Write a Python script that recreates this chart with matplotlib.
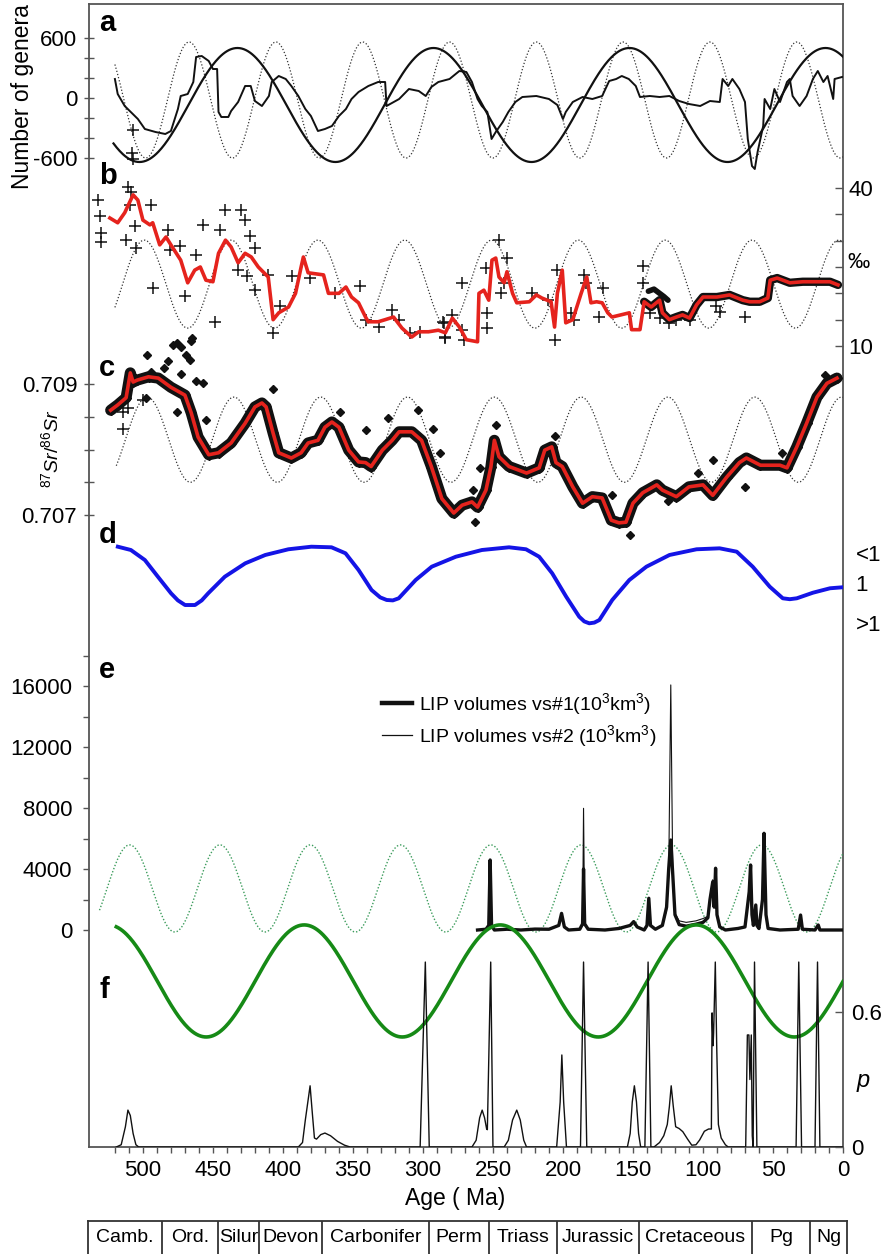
import numpy as np
import matplotlib
matplotlib.use("Agg")
import matplotlib.pyplot as plt
from matplotlib.lines import Line2D

plt.rcParams['font.family'] = ['Liberation Sans', 'DejaVu Sans']
plt.rcParams['mathtext.fontset'] = 'custom'
plt.rcParams['mathtext.rm'] = 'Liberation Sans'
plt.rcParams['mathtext.it'] = 'Liberation Sans:italic'
plt.rcParams['axes.unicode_minus'] = False

# ---------------- data (ages in Ma) ----------------
# model cycles: period, age of a peak, mean, amplitude, oldest age drawn
CYC_A_62 = (62.0, 33.0, -20.0, 580.0, 520.0)
CYC_A_140 = (140.0, 12.5, -70.0, 570.0, 521.0)
CYC_B_62 = (62.0, 3.0, 21.75, 8.35, 520.0)
CYC_C_62 = (62.0, 1.0, 0.70815, 0.00065, 519.0)
CYC_E_64 = (64.5, 58.0, 2725.0, 2855.0, 531.0)
CYC_F_140 = (140.0, 104.8, 0.738, 0.249, 519.0)

# a: number of genera (detrended)
gen_age = [520, 518, 513, 503.6, 498.6, 491, 484, 480, 475, 473, 468, 464, 462, 458, 453, 450,
           447, 446, 444, 439, 437, 432, 427, 423, 420, 415, 410, 408, 403, 398, 394, 389, 384,
           380, 375, 370, 365, 360, 355, 351, 346, 339, 332, 327, 326, 317, 310, 303, 298, 294,
           289, 281, 274, 269, 265, 261, 258, 254, 251, 248, 243, 239, 234, 229, 219, 210, 204,
           200, 198, 193, 186, 179, 172, 167, 162, 158, 153, 148, 145, 138, 131, 124, 117, 110,
           102, 95, 88, 86, 82, 79, 74, 70, 68, 65, 63, 61, 57, 56, 52, 49, 45, 40, 38, 36, 31,
           26, 21.5, 18, 14, 11, 7, 6, 0.7]
gen_val = [190, 40, -80, -210, -310, -340, -360, -330, -110, 20, 40, 160, 410, 420, 370, 290,
           290, -140, -190, -190, -130, -40, 120, 120, -30, -80, 20, 160, 220, 190, 120, 20, -110,
           -180, -330, -310, -280, -180, -110, -10, 60, 120, 160, 160, -80, -10, 90, 70, 20, 110,
           160, 190, 270, 260, 160, -10, -80, -140, -410, -340, -240, -140, -40, 10, 20, -10, -70,
           -210, -140, -40, 10, -10, 20, 170, 190, 220, 190, 120, 10, 20, 10, 20, -30, -60,
           -80, -30, -40, 190, 120, 190, 90, -40, -410, -680, -710, -540, -280, -10, -110, 90, -40, 160, 190, 20, -80,
           20, 190, 270, 160, 220, -10, 190, 210]

# b: d34S (permil), smoothed curve
s_age = [523.6, 518, 513, 507, 503.6, 500, 495, 493, 488, 483.5, 480, 473, 468, 463, 459, 455,
         450, 446, 441, 437, 432, 427, 422.6, 417.6, 410.5, 407, 403, 396, 391, 387, 385.4, 382,
         371, 367.5, 360, 355, 351, 346, 341, 339, 332, 327, 321, 315, 308, 303, 296, 289, 284,
         279, 274, 269, 261, 260, 256.5, 253, 250.7, 248, 245.7, 242, 240, 236, 233, 224, 219,
         215, 208.5, 206, 204, 200.5, 198, 193, 187, 183, 180, 176, 172, 168, 165, 152.6, 151,
         145, 142, 137, 131, 129, 124, 119, 114.6, 109.6, 104.6, 100, 90, 81, 71.6, 66.6, 59.5,
         53.7, 52, 47, 38, 28.7, 18.6, 9.3, 3.6]
s_val = [34.3, 33.4, 35.3, 38.7, 37.7, 33.9, 33, 33.4, 29.2, 30.7, 29.2, 26.3, 22, 24.4, 25, 22.5,
         22.2, 27.6, 30.1, 28.8, 25.8, 27.6, 26.9, 25, 23.1, 15, 16.3, 17.4, 20, 25, 26.9, 23.9,
         23.5, 20, 20, 21.2, 19.3, 18.2, 15.5, 14.6, 14.6, 15, 15.5, 13.4, 11.7, 12.7, 12.7, 13, 12.5,
         15.3, 13.6, 11.2, 10.8, 20, 20.6, 18.7, 26.3, 26.7, 23.1, 22, 24.1, 20, 18.2, 18.4, 19.7,
         19.1, 18.4, 13.6, 20, 24.4, 14.4, 15, 20, 23.1, 18.2, 18.4, 18.2, 16.3, 15.5, 16.3, 13.1,
         13.1, 18.4, 17.4, 18.7, 16.3, 15, 15.5, 15.9, 15.3, 17.8, 19.3, 19.3, 19.7, 18.7, 18.4, 18.4,
         19.1, 22.5, 22.9, 22, 22.2, 22.2, 22.2, 21.6]
# b: individual measurements
sx_age = [532, 531, 530, 530, 510.7, 508.6, 509.5, 512, 506, 494, 505, 493, 482, 481, 473.7, 470,
          462, 448.6, 441.5, 429.6, 427, 457, 445, 423.6, 420, 432, 426, 420, 410.5, 407, 402,
          393.7, 380.6, 362.7, 344.8, 341, 331.7, 322, 317, 309, 302, 285, 284, 286, 284, 279,
          272, 271, 272, 255, 254, 254, 245.7, 239.7, 244.5, 242, 222, 211, 204, 206, 194, 192,
          185, 183.6, 171.7, 174, 143, 143, 138, 131, 124, 119, 109.6, 90.5, 70, 88, 507, 508, 507]
sx_val = [37.7, 34.6, 31.4, 29.8, 40.2, 39.3, 36.8, 30.1, 32.7, 36.8, 28.6, 21, 32, 28.2, 28.9, 19.4,
          27.3, 14.6, 35.8, 35.8, 33.9, 33, 32, 30.8, 28.6, 24.4, 23.2, 20.6, 23.5, 12.5, 17.5,
          23.2, 22.9, 20, 21.3, 14.9, 13.7, 16.8, 14.9, 12.4, 12.7, 14.3, 11.8, 14.6, 11.5, 15.9,
          13, 11.2, 21.9, 24.8, 16.2, 13.4, 30.1, 26.7, 20, 22, 20, 18.7, 24.4, 11.2, 16.2, 15,
          23.5, 21.9, 21, 15.6, 25.1, 21.9, 16.2, 15.3, 14.3, 14.9, 14.9, 17.5, 15.6, 16.5, 51, 46.6, 45.6]
sarc_age = [139, 135, 131, 128, 125]
sarc_val = [20.4, 20.8, 20.0, 19.4, 18.7]

# c: 87Sr/86Sr smoothed curve
sr_age = [523, 518, 512, 509, 507, 504, 496, 489, 480, 470, 465.5, 460.6, 453, 446, 437, 427, 420,
          415, 412, 407, 403, 394, 387, 382, 375, 370, 365, 360, 353, 346, 341, 337, 329, 322,
          317, 308, 301, 294, 286.5, 278, 272, 265, 261, 255, 251.5, 249, 245.7, 238.5, 226, 217,
          213, 208, 205, 200.5, 193, 186, 179, 172, 165.5, 160, 155, 150, 143, 133, 129, 119, 110,
          100, 93, 83, 74, 69, 59, 45, 40, 33, 26, 18.6, 11.5, 4.3]
sr_val = [0.7086, 0.70868, 0.70879, 0.70917, 0.70903, 0.70906, 0.70911, 0.70909, 0.70895, 0.70883,
          0.70856, 0.70819, 0.70792, 0.70795, 0.7081, 0.7084, 0.70865, 0.70871, 0.70865, 0.70825,
          0.70795, 0.70787, 0.70795, 0.7081, 0.70814, 0.70834, 0.70842, 0.70834, 0.70799, 0.70781,
          0.7078, 0.70774, 0.70799, 0.70814, 0.70827, 0.70827, 0.70814, 0.70774, 0.70725, 0.70703,
          0.70715, 0.7072, 0.70712, 0.70738, 0.70773, 0.70814, 0.70789, 0.70774, 0.70764, 0.70772,
          0.70799, 0.70804, 0.7078, 0.70774, 0.70743, 0.70718, 0.70728, 0.70726, 0.70692, 0.70688,
          0.70689, 0.70718, 0.70734, 0.70746, 0.70738, 0.70728, 0.70743, 0.70746, 0.7073, 0.70758,
          0.7078, 0.70787, 0.70776, 0.70776, 0.70772, 0.70804, 0.7084, 0.7088, 0.70901, 0.70909]
# c: scattered measurements off the main cloud
srd_age = [497, 494, 478.5, 472.6, 469, 465.4, 466.6, 472.6, 457, 476, 497.6, 407, 359.5, 340.4,
           325, 303.5, 292.8, 288, 476, 465, 259.4, 263, 247.5, 206, 165.3, 152.2, 124.8, 103.4,
           92.7, 70, 12.9, 43.8, 264, 485, 482, 462, 455]
srd_val = [0.70944, 0.70919, 0.7096, 0.70957, 0.70944, 0.70965, 0.70937, 0.70916, 0.70901, 0.70858,
           0.70878, 0.70893, 0.70858, 0.7083, 0.70848, 0.7086, 0.70832, 0.70794, 0.70962, 0.7097,
           0.70771, 0.7069, 0.70837, 0.7082, 0.7073, 0.70669, 0.70722, 0.70764, 0.70784, 0.70743,
           0.70914, 0.70794, 0.70738, 0.70925, 0.70935, 0.70905, 0.70845]
srp_age = [514, 510.7, 514, 500]
srp_val = [0.70858, 0.70863, 0.70832, 0.70876]

# d: relative curve (1 = neutral, smaller = "<1")
d_age = [517.9, 508.6, 498.6, 489.3, 479.9, 475, 469.9, 462.8, 458, 453.4, 441.5, 426.9, 412.6,
         396.1, 379.7, 365.3, 355.3, 346, 336.7, 330.5, 325.9, 321.5, 317.3, 305.2, 293.7, 276.5,
         257.9, 238.5, 226.4, 217, 207.7, 197.7, 188.4, 184.8, 181.2, 177.6, 174, 164.8, 152.6,
         140.4, 123.9, 104.6, 88.1, 75.9, 64.5, 52.3, 43, 38, 33, 21.5, 9.3, 0.7]
d_val = [0.395, 0.45, 0.617, 0.895, 1.172, 1.29, 1.367, 1.367, 1.29, 1.172, 0.895, 0.672, 0.533,
         0.438, 0.395, 0.405, 0.505, 0.783, 1.117, 1.24, 1.283, 1.29, 1.255, 0.95, 0.728, 0.562,
         0.45, 0.405, 0.438, 0.562, 0.838, 1.228, 1.562, 1.64, 1.672, 1.66, 1.617, 1.283, 0.95,
         0.728, 0.533, 0.438, 0.422, 0.478, 0.728, 1.062, 1.255, 1.27, 1.255, 1.162, 1.088, 1.072]

# e: LIP volumes (10^3 km^3)
lip1_age = [261, 255, 253, 252, 251, 249, 240, 230, 220, 210, 203, 201, 199, 196, 188, 186, 185.3,
            184.5, 182, 170, 160, 152, 149.5, 147, 142, 140, 138.7, 137.5, 134, 129, 126, 124.5,
            123, 121.5, 120, 117, 112, 105, 100, 96.5, 95, 93, 92, 91, 90, 88, 84, 75, 70, 67,
            66, 65, 64, 62.3, 61.5, 60, 57.5, 56.4, 55, 53.5, 45, 32, 30.3, 29, 20, 17.7, 16.5, 0]
lip1_val = [0, 50, 300, 4590, 300, 0, 50, 0, 60, 50, 300, 1090, 200, 0, 50, 400, 4000, 400, 50, 0,
            100, 300, 550, 200, 0, 300, 2080, 300, 50, 300, 1500, 4000, 5900, 3500, 1000, 350,
            250, 380, 500, 800, 2000, 3170, 1500, 4050, 1000, 200, 0, 100, 200, 2500, 4260, 1000,
            300, 1640, 300, 100, 2000, 6340, 1000, 100, 0, 50, 980, 50, 0, 330, 0, 0]
lip2_age = [261, 255, 253, 252, 251, 249, 240, 230, 220, 210, 203, 201, 199, 196, 188, 186, 185.3,
            184.5, 182, 170, 160, 152, 149.5, 147, 142, 140, 138.7, 137.5, 134, 129, 126, 124.5,
            123, 121.5, 120, 117, 112, 105, 100, 96.5, 95, 93, 92, 91, 90, 88, 84, 75, 70, 67,
            66, 65, 64, 62.3, 61.5, 60, 57.5, 56.4, 55, 53.5, 45, 32, 30.3, 29, 20, 17.7, 16.5, 0]
lip2_val = [0, 50, 300, 4590, 300, 0, 50, 0, 60, 50, 300, 1090, 200, 0, 50, 300, 7980, 300, 50, 0,
            100, 300, 550, 200, 0, 300, 2080, 300, 50, 300, 1300, 3500, 16070, 3000, 1100, 600,
            500, 600, 750, 900, 2000, 3300, 1500, 3900, 1000, 200, 0, 100, 200, 2500, 4260, 1000,
            300, 1640, 300, 100, 2000, 6340, 1000, 100, 0, 50, 980, 50, 0, 330, 0, 0]

# f: probability p
p_age = [519, 515.5, 512.5, 510.7, 509, 507, 505, 503, 389, 386, 384, 380.6, 379, 377.5, 376, 373,
         370, 366, 361, 356, 352, 302, 298.3, 295.5, 265, 262, 259.5, 257.7, 256, 254.5, 254,
         251.6, 250, 242, 239, 236, 233, 230.5, 228, 226, 204.5, 202, 200.8, 199.5, 197.5, 187.5,
         185.3, 183, 154, 152, 150.5, 149, 147.5, 146, 144.5, 141.5, 139.2, 137.2, 135, 131, 128,
         125.5, 124, 122.7, 121.2, 119.5, 117, 114.4, 111, 108, 105, 102.4, 99, 96, 94, 93.5,
         92.8, 92.4, 91.2, 90.2, 89, 87, 84, 82, 69.5, 68.3, 67.2, 66.5, 65.5, 64.8, 64.2, 63.2,
         61.5, 33.5, 31.6, 29.6, 20, 18.2, 16.5, 0]
p_val = [0, 0.01, 0.09, 0.164, 0.14, 0.06, 0.01, 0, 0, 0.02, 0.12, 0.272, 0.15, 0.04, 0.035, 0.055,
         0.062, 0.05, 0.025, 0.008, 0, 0, 0.822, 0, 0, 0.03, 0.13, 0.164, 0.13, 0.08, 0.077,
         0.822, 0, 0, 0.03, 0.12, 0.164, 0.12, 0.03, 0, 0, 0.2, 0.409, 0.2, 0, 0,
         0.822, 0, 0, 0.06, 0.2, 0.272, 0.2, 0.06, 0, 0, 0.822, 0, 0, 0.02, 0.05,
         0.1, 0.18, 0.272, 0.18, 0.09, 0.082, 0.068, 0.035, 0.008, 0.01, 0.031, 0.07, 0.08, 0.08, 0.596,
         0.45, 0.507, 0.822, 0.45, 0.1, 0.04, 0.01, 0, 0, 0.498, 0.498, 0.3, 0.498, 0.05, 0, 0.822,
         0, 0, 0.822, 0, 0, 0.822, 0, 0]

# geological periods
period_edges = [539.2, 486, 446, 417, 372, 296, 253, 204, 146, 65, 23.6, -2.9]
period_names = ['Camb.', 'Ord.', 'Silur', 'Devon', 'Carbonifer', 'Perm', 'Triass',
                'Jurassic', 'Cretaceous', 'Pg', 'Ng']

x_major = [500, 450, 400, 350, 300, 250, 200, 150, 100, 50, 0]

# ---------------- layout ----------------
W, H = 882, 1254
TOP, BOT, LEFT, RIGHT = 4, 1147, 89, 843
AGE_MAX = 538.5
TICK_C = '#555555'

fig = plt.figure(figsize=(W / 100, H / 100), dpi=100)
rect = [LEFT / W, 1 - BOT / H, (RIGHT - LEFT) / W, (BOT - TOP) / H]


def fxy(x, y):
    return x / W, 1 - y / H


def cycle(params):
    period, peak, mean, amp, start = params
    t = np.linspace(start, 0, 700)
    return t, mean + amp * np.cos(2 * np.pi * (t - peak) / period)


def layer(v_hi, py_hi, v_lo, py_lo):
    # transparent axes over the whole frame, scaled so v_hi sits at pixel row py_hi etc.
    ax = fig.add_axes(rect, facecolor='none')
    s = (v_hi - v_lo) / (py_lo - py_hi)
    ax.set_ylim(v_lo - (BOT - py_lo) * s, v_hi + (py_hi - TOP) * s)
    ax.set_xlim(AGE_MAX, 0)
    for sp in ax.spines.values():
        sp.set_visible(False)
    ax.set_xticks([])
    ax.set_yticks([])
    return ax


# frame + age axis
frame = fig.add_axes(rect)
frame.set_xlim(AGE_MAX, 0)
frame.set_yticks([])
for sp in frame.spines.values():
    sp.set_color(TICK_C)
    sp.set_linewidth(1.3)
frame.set_xticks(x_major)
frame.set_xticks([a for a in range(10, 530, 10) if a % 50], minor=True)
frame.tick_params(axis='x', which='both', direction='out', length=4.5, width=1,
                  color=TICK_C, labelsize=16, pad=5)
fig.text(*fxy(455, 1198), 'Age ( Ma)', fontsize=16.5, ha='center', va='center')

dot_style = dict(color='#333333', lw=0.9, linestyle=(0, (1, 1.6)))

# a
ax_a = layer(600, 38, -600, 158)
ax_a.plot(*cycle(CYC_A_62), **dot_style)
ax_a.plot(*cycle(CYC_A_140), color='#111111', lw=1.6)
ax_a.plot(gen_age, gen_val, color='#111111', lw=1.4)
ax_a.set_yticks([600, 0, -600])
ax_a.set_yticks([400, 200, -200, -400], minor=True)
ax_a.tick_params(axis='y', which='both', direction='inout', length=7, width=1,
                 color=TICK_C, labelsize=16, pad=5)
fig.text(*fxy(23, 97), 'Number of genera', rotation=90, fontsize=16.5,
         ha='center', va='center')

# b
ax_b = layer(40, 188, 10, 346)
ax_b.plot(*cycle(CYC_B_62), **dot_style)
ax_b.plot(sx_age, sx_val, linestyle='none', marker='+', ms=9, mew=1.1, color='#111111')
band_age = [a for a in s_age if a <= 142]
band_val = [v for a, v in zip(s_age, s_val) if a <= 142]
ax_b.plot(band_age, band_val, color='#111111', lw=6, solid_capstyle='round')
ax_b.plot(sarc_age, sarc_val, color='#111111', lw=4, solid_capstyle='round')
ax_b.plot(s_age, s_val, color='#e5231d', lw=2.6)
ax_b.yaxis.tick_right()
ax_b.set_yticks([40, 10])
ax_b.set_yticks([35, 30, 25, 20, 15], minor=True)
ax_b.tick_params(axis='y', which='both', direction='in', length=6, width=1,
                 color=TICK_C, labelsize=16, pad=4)
fig.text(*fxy(847, 263), '\u2030', fontsize=16, ha='left', va='center')

# c
ax_c = layer(0.709, 384, 0.707, 515)
ax_c.plot(*cycle(CYC_C_62), **dot_style)
ax_c.plot(sr_age, sr_val, color='#111111', lw=8, solid_capstyle='round')
ax_c.plot(sr_age, sr_val, linestyle='none', marker='D', ms=5, color='#111111')
ax_c.plot(srd_age, srd_val, linestyle='none', marker='D', ms=4, color='#111111')
ax_c.plot(srp_age, srp_val, linestyle='none', marker='+', ms=8, mew=1.1, color='#111111')
ax_c.plot(sr_age, sr_val, color='#e5231d', lw=2.6)
ax_c.set_yticks([0.709, 0.707])
ax_c.set_yticklabels(['0.709', '0.707'])
ax_c.set_yticks([0.7085, 0.708, 0.7075], minor=True)
ax_c.tick_params(axis='y', which='both', direction='inout', length=7, width=1,
                 color=TICK_C, labelsize=16, pad=5)
fig.text(*fxy(51, 449), r'$^{87}Sr/^{86}Sr$', rotation=90, fontsize=14,
         ha='center', va='center')

# d
ax_d = layer(0.5, 553, 1.0, 583)
ax_d.plot(d_age, d_val, color='#1414e6', lw=2.8)
ax_d.yaxis.tick_right()
ax_d.set_yticks([0.5, 1.0, 1.0 + 40 / 60])
ax_d.set_yticklabels(['<1', '1', '>1'])
ax_d.tick_params(axis='y', length=0, labelsize=16, pad=9)

# e
ax_e = layer(16000, 686, 0, 930)
ax_e.plot(*cycle(CYC_E_64), color='#3c9c5c', lw=1.0, linestyle=(0, (1, 1.4)))
l1, = ax_e.plot(lip1_age, lip1_val, color='#111111', lw=2.4)
l2, = ax_e.plot(lip2_age, lip2_val, color='#111111', lw=0.8)
ax_e.set_yticks([16000, 12000, 8000, 4000, 0])
ax_e.set_yticks([18000, 14000, 10000, 6000, 2000], minor=True)
ax_e.tick_params(axis='y', which='both', direction='out', length=4, width=1,
                 color=TICK_C, labelsize=16, pad=8)
hl = [Line2D([], [], color='#111111', lw=3.2), Line2D([], [], color='#111111', lw=0.9)]
ax_e.legend(hl, [r'LIP volumes vs#1(10$^3$km$^3$)', r'LIP volumes vs#2 (10$^3$km$^3$)'],
            loc='upper left', bbox_to_anchor=fxy(382, 691), bbox_transform=fig.transFigure,
            frameon=False, fontsize=14, handlelength=1.55, handletextpad=0.35,
            borderpad=0, borderaxespad=0, labelspacing=0.3)

# f
ax_f = layer(0.6, 1012, 0, 1147)
ax_f.plot(*cycle(CYC_F_140), color='#168a16', lw=2.6)
ax_f.plot(p_age, p_val, color='#111111', lw=1.0)
ax_f.yaxis.tick_right()
ax_f.set_yticks([0.6, 0])
ax_f.set_yticklabels(['0.6', '0'])
ax_f.tick_params(axis='y', direction='in', length=6, width=1, color=TICK_C,
                 labelsize=16, pad=6)
fig.text(*fxy(857, 1080), 'p', fontsize=17, style='italic', ha='left', va='center')

# panel letters
for letter, py in zip('abcdef', [23, 176, 368, 535, 670, 990]):
    fig.text(*fxy(99, py), letter, fontsize=21, fontweight='bold', ha='left', va='center')

# geological time scale row
tl, tr = 88, 847
ax_t = fig.add_axes([tl / W, 0, (tr - tl) / W, (1254 - 1221) / H])
ax_t.set_xlim(period_edges[0], period_edges[-1])
ax_t.set_ylim(0, 1)
ax_t.set_xticks([])
ax_t.set_yticks([])
ax_t.spines['bottom'].set_visible(False)
for sp in ('top', 'left', 'right'):
    ax_t.spines[sp].set_color('#333333')
    ax_t.spines[sp].set_linewidth(1.3)
for edge in period_edges[1:-1]:
    ax_t.axvline(edge, color='#333333', lw=1.3)
for i, name in enumerate(period_names):
    mid = (period_edges[i] + period_edges[i + 1]) / 2
    ax_t.text(mid, 0.5, name, fontsize=14, ha='center', va='center')

fig.savefig('out.png', dpi=100)
